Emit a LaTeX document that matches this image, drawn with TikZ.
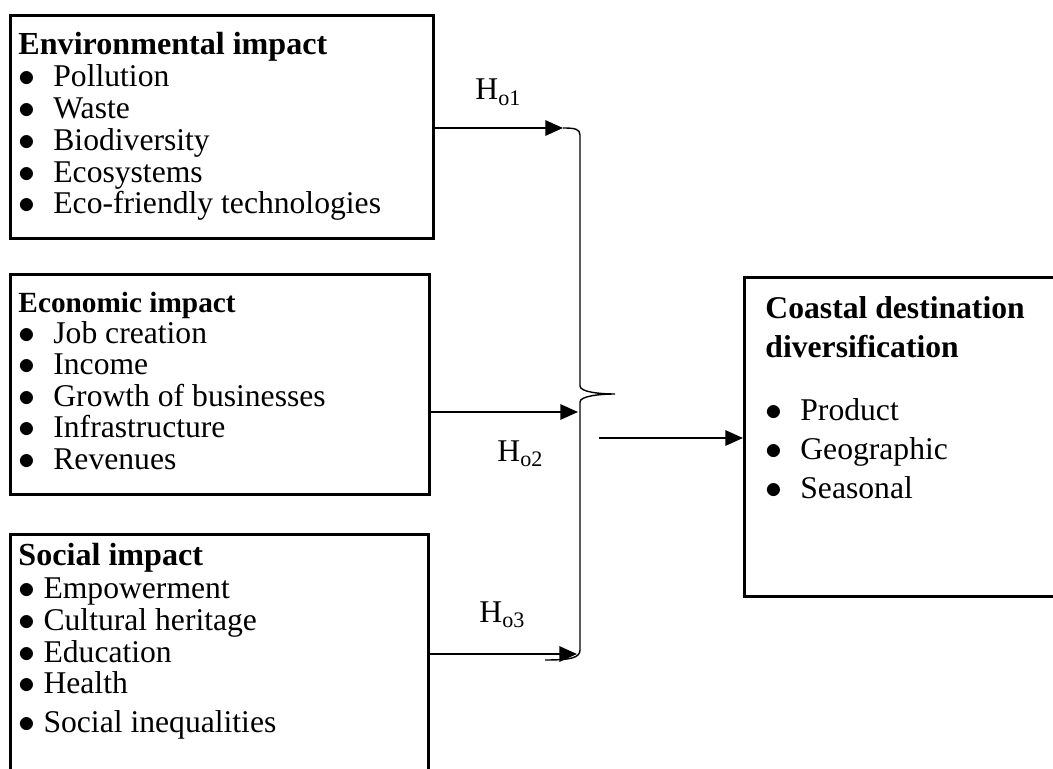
\documentclass[tikz,border=0pt]{standalone}
\usepackage{fontspec}
\setmainfont{Liberation Serif}
\usetikzlibrary{arrows.meta}
\newcommand{\bul}[1][14.9pt]{\makebox[#1][l]{$\bullet$}}

\begin{document}
\begin{tikzpicture}[x=0.015cm,y=-0.015cm,
    box/.style={draw,line width=1.1pt,anchor=north west,inner sep=0pt},
    head/.style={anchor=base west,inner sep=0pt,font=\fontsize{13.7}{16}\selectfont\bfseries},
    item/.style={anchor=base west,inner sep=0pt,font=\fontsize{13.5}{16}\selectfont},
    arr/.style={line width=0.9pt,-{Triangle[length=7.5pt,width=6.5pt]}},
    brace/.style={line width=0.6pt}]
            \clip (0,0) rectangle (1053,769);
            % boxes
            \node [box,minimum width=6.345cm,minimum height=3.345cm] (env) at (9,14) {};
            \node [box,minimum width=6.285cm,minimum height=3.3cm] (eco) at (9,273) {};
            \node [box,minimum width=6.27cm,minimum height=4.5cm] (soc) at (9,533) {};
            \node [box,minimum width=5.7cm,minimum height=4.785cm] (cdd) at (743,276) {};
            % environmental
            \node [head] (envh) at (18,55) {Environmental impact};
            \node [item] (env1) at (18,87) {\bul Pollution};
            \node [item] (env2) at (18,119) {\bul Waste};
            \node [item] (env3) at (18,151) {\bul Biodiversity};
            \node [item] (env4) at (18,183) {\bul Ecosystems};
            \node [item] (env5) at (18,214) {\bul Eco-friendly technologies};
            % economic
            \node [head,font=\fontsize{12.5}{15}\selectfont\bfseries] (ecoh) at (18,312) {Economic impact};
            \node [item] (eco1) at (18,343) {\bul Job creation};
            \node [item] (eco2) at (18,374) {\bul Income};
            \node [item] (eco3) at (18,406) {\bul Growth of businesses};
            \node [item] (eco4) at (18,437) {\bul Infrastructure};
            \node [item] (eco5) at (18,469) {\bul Revenues};
            % social
            \node [head] (soch) at (18,565) {Social impact};
            \node [item] (soc1) at (18,598) {\bul[10.7pt]Empowerment};
            \node [item] (soc2) at (18,630) {\bul[10.7pt]Cultural heritage};
            \node [item] (soc3) at (18,662) {\bul[10.7pt]Education};
            \node [item] (soc4) at (18,693) {\bul[10.7pt]Health};
            \node [item] (soc5) at (18,732) {\bul[10.7pt]Social inequalities};
            % diversification
            \node [head,font=\fontsize{13.5}{16}\selectfont\bfseries] (cddh1) at (765,318) {Coastal destination};
            \node [head,font=\fontsize{13.5}{16}\selectfont\bfseries] (cddh2) at (765,357) {diversification};
            \node [item] (cdd1) at (765,420) {\bul Product};
            \node [item] (cdd2) at (765,459) {\bul Geographic};
            \node [item] (cdd3) at (765,498) {\bul Seasonal};
            % hypotheses
            \node [item] (h1) at (475,100) {H\textsubscript{o1}};
            \node [item] (h2) at (497,461) {H\textsubscript{o2}};
            \node [item] (h3) at (479,622) {H\textsubscript{o3}};
            % arrows
            \coordinate (t1) at (563,128);
            \coordinate (t2) at (578,412);
            \coordinate (t3) at (577,654);
            \coordinate (s) at (599,438);
            \draw [arr] (env.east |- t1) -- (t1);
            \draw [arr] (eco.east |- t2) -- (t2);
            \draw [arr] (soc.east |- t3) -- (t3);
            \draw [arr] (s) -- (cdd.west |- s);
            % brace
            \draw [brace] (t1) .. controls (575,128) and (580,129) .. (580,135) -- (580,386)
                .. controls (580,392) and (600,394) .. (615,394)
                .. controls (600,394) and (580,396) .. (580,402) -- (580,650)
                .. controls (580,658) and (570,660) .. (545,660);
        \end{tikzpicture}
\end{document}
